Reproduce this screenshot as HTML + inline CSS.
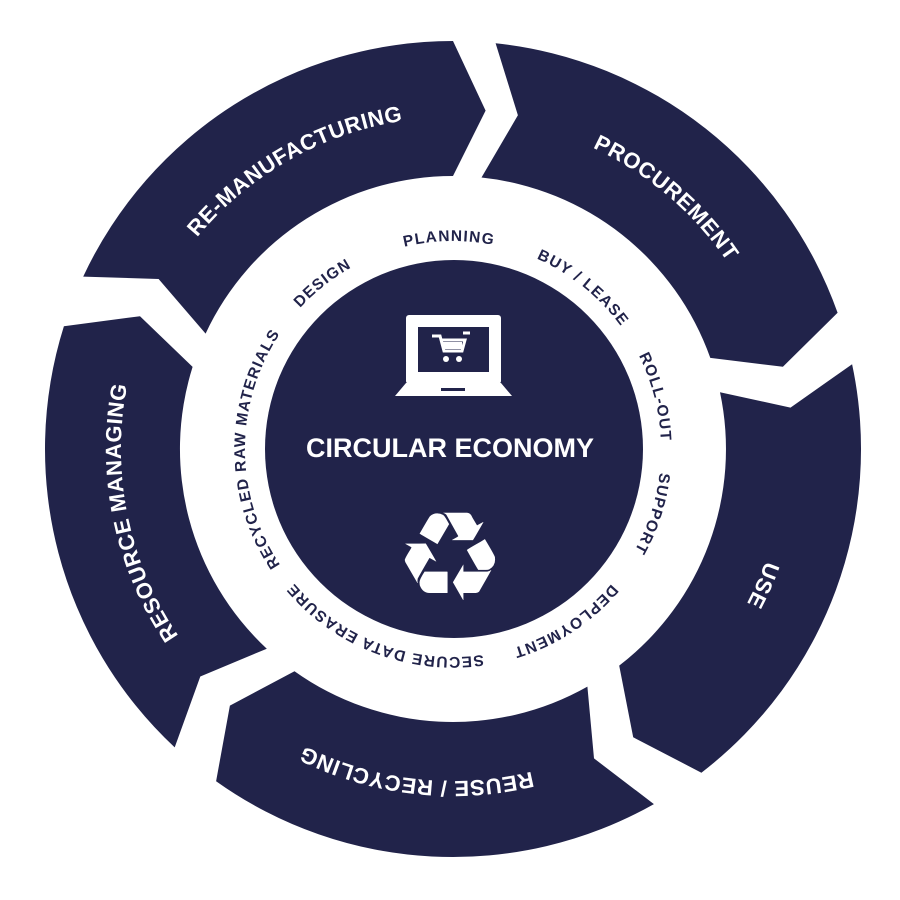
<!DOCTYPE html>
<html><head><meta charset="utf-8"><style>
html,body{margin:0;padding:0;background:#fff;}
svg{display:block;}
</style></head><body>
<svg width="900" height="900" viewBox="0 0 900 900" xmlns="http://www.w3.org/2000/svg">
<defs>
<path id="outerP" d="M453,117 A332,332 0 1 1 453,781 A332,332 0 1 1 453,117 A332,332 0 1 1 453,781 A332,332 0 1 1 453,117"/>
<path id="innerP" d="M453,241 A208,208 0 1 1 453,657 A208,208 0 1 1 453,241 A208,208 0 1 1 453,657 A208,208 0 1 1 453,241"/>
</defs>
<g fill="#21234a">
<path d="M495.6,43.2 A408,408 0 0 1 837.6,312.8 L782.9,366.8 L710.3,357.9 A273,273 0 0 0 481.5,177.5 L517.9,115.3 Z"/>
<path d="M852.1,364.2 A408,408 0 0 1 701.4,772.7 L633.2,737.3 L619.2,665.6 A273,273 0 0 0 720.0,392.2 L790.5,407.6 Z"/>
<path d="M653.9,804.1 A408,408 0 0 1 216.1,781.2 L229.9,705.6 L294.5,671.2 A273,273 0 0 0 587.4,686.6 L594.0,758.4 Z"/>
<path d="M174.7,747.4 A408,408 0 0 1 63.9,326.3 L140.0,316.2 L192.6,366.9 A273,273 0 0 0 266.8,648.7 L200.3,676.5 Z"/>
<path d="M83.2,276.6 A408,408 0 0 1 453,41 L485.6,110.6 L453,176 A273,273 0 0 0 205.6,333.6 L158.6,279 Z"/>
</g>
<circle cx="454" cy="449" r="189" fill="#21234a"/>
<g font-family="Liberation Sans, sans-serif" font-weight="bold" fill="#fff" font-size="22" letter-spacing="0.6">
<text text-anchor="middle"><textPath href="#outerP" startOffset="45.9%">RE-MANUFACTURING</textPath></text>
<text text-anchor="middle"><textPath href="#outerP" startOffset="5.6%">PROCUREMENT</textPath></text>
<text text-anchor="middle"><textPath href="#outerP" startOffset="15.8%">USE</textPath></text>
<text text-anchor="middle"><textPath href="#outerP" startOffset="25.9%">REUSE / RECYCLING</textPath></text>
<text text-anchor="middle"><textPath href="#outerP" startOffset="35.9%">RESOURCE MANAGING</textPath></text>
</g>
<g font-family="Liberation Sans, sans-serif" font-weight="bold" fill="#21234a" font-size="15.5" letter-spacing="1.2">
<text text-anchor="middle"><textPath href="#innerP" startOffset="49.85%">PLANNING</textPath></text>
<text text-anchor="middle"><textPath href="#innerP" startOffset="44.7%">DESIGN</textPath></text>
<text text-anchor="middle"><textPath href="#innerP" startOffset="5.4%">BUY / LEASE</textPath></text>
<text text-anchor="middle"><textPath href="#innerP" startOffset="10.5%">ROLL-OUT</textPath></text>
<text text-anchor="middle"><textPath href="#innerP" startOffset="15.0%">SUPPORT</textPath></text>
<text text-anchor="middle"><textPath href="#innerP" startOffset="20.4%">DEPLOYMENT</textPath></text>
<text text-anchor="middle"><textPath href="#innerP" startOffset="27.9%">SECURE DATA ERASURE</textPath></text>
<text text-anchor="middle"><textPath href="#innerP" startOffset="37.5%">RECYCLED RAW MATERIALS</textPath></text>
</g>
<!-- laptop -->
<rect x="406" y="315" width="95" height="69" rx="3" fill="#fff"/>
<rect x="418" y="327" width="71" height="45" fill="#21234a"/>
<path d="M406,383 L501,383 L512,396 L395,396 Z" fill="#fff"/>
<rect x="441" y="388" width="24" height="3" fill="#21234a"/>
<!-- cart -->
<path d="M432,336 L440,336 L444,351 L462,351 L465,340 L442,340" fill="none" stroke="#fff" stroke-width="3"/>
<path d="M463,333 L470,333" stroke="#fff" stroke-width="3"/>
<rect x="442" y="342" width="20" height="7" fill="#fff"/>
<circle cx="446" cy="359" r="3" fill="#fff"/>
<circle cx="459" cy="359" r="3" fill="#fff"/>
<text x="450" y="457" text-anchor="middle" font-family="Liberation Sans, sans-serif" font-weight="bold" font-size="27" fill="#fff">CIRCULAR ECONOMY</text>
<text x="450" y="600" text-anchor="middle" font-family="DejaVu Sans, sans-serif" font-size="124" fill="#fff">♻</text>
</svg>
</body></html>
